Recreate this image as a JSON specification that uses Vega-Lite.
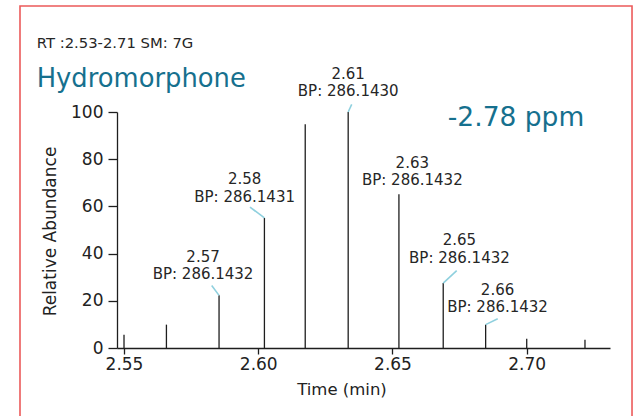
{
  "$schema": "https://vega.github.io/schema/vega-lite/v6.json",
  "width": 493,
  "height": 236,
  "autosize": {"type": "none"},
  "padding": {"left": 117, "top": 112, "right": 29, "bottom": 68},
  "background": "#ffffff",
  "datasets": {
    "peaks": [
      {"time": 2.5500, "abundance": 5.6, "rt": null, "label": null},
      {"time": 2.5658, "abundance": 9.9, "rt": null, "label": null},
      {"time": 2.5854, "abundance": 22.3, "rt": "2.57", "label": "2.57\nBP: 286.1432"},
      {"time": 2.6023, "abundance": 55.1, "rt": "2.58", "label": "2.58\nBP: 286.1431"},
      {"time": 2.6175, "abundance": 94.8, "rt": null, "label": null},
      {"time": 2.6335, "abundance": 100, "rt": "2.61", "label": "2.61\nBP: 286.1430"},
      {"time": 2.6524, "abundance": 65.1, "rt": "2.63", "label": "2.63\nBP: 286.1432"},
      {"time": 2.6689, "abundance": 27.5, "rt": "2.65", "label": "2.65\nBP: 286.1432"},
      {"time": 2.6847, "abundance": 9.9, "rt": "2.66", "label": "2.66\nBP: 286.1432"},
      {"time": 2.7000, "abundance": 3.9, "rt": null, "label": null},
      {"time": 2.7217, "abundance": 3.5, "rt": null, "label": null}
    ],
    "notes": [
      {"kind": "scan", "note": "RT :2.53-2.71 SM: 7G"},
      {"kind": "compound", "note": "Hydromorphone"},
      {"kind": "error", "note": "-2.78 ppm"}
    ]
  },
  "data": {"name": "peaks"},
  "layer": [
    {
      "mark": {"type": "rule", "color": "#1e1e1e", "strokeWidth": 1.3},
      "encoding": {
        "x": {
          "field": "time",
          "type": "quantitative",
          "scale": {"domain": [2.54739, 2.73102], "nice": false, "zero": false},
          "axis": {
            "values": [2.55, 2.6, 2.65, 2.7],
            "format": ".2f",
            "tickSize": 6,
            "labelPadding": 2,
            "labelFlush": false,
            "title": "Time (min)",
            "titleFontSize": 16.5,
            "titleX": 224.5,
            "titleY": 46,
            "titleAlign": "center",
            "titleBaseline": "alphabetic"
          }
        },
        "y": {
          "field": "abundance",
          "type": "quantitative",
          "scale": {"domain": [0, 100], "nice": false},
          "axis": {
            "values": [0, 20, 40, 60, 80, 100],
            "tickSize": 9,
            "labelPadding": 5,
            "title": "Relative Abundance",
            "titleFontSize": 17,
            "titleAngle": -90,
            "titleX": -67,
            "titleY": 119,
            "titleAlign": "center",
            "titleBaseline": "middle"
          }
        },
        "y2": {"datum": 0}
      }
    },
    {
      "data": {"name": "notes"},
      "transform": [{"filter": "datum.kind === 'scan'"}],
      "mark": {"type": "rect", "fill": "transparent", "stroke": "#ec5a5a", "strokeWidth": 1.6},
      "encoding": {
        "x": {"datum": 2.51126},
        "x2": {"datum": 2.73922},
        "y": {"datum": 144.9},
        "y2": {"datum": -35}
      }
    },
    {
      "transform": [{"filter": "datum.rt === '2.57'"}],
      "encoding": {
        "x": {"field": "time", "type": "quantitative"},
        "y": {"field": "abundance", "type": "quantitative"}
      },
      "layer": [
        {
          "mark": {"type": "rule", "color": "#8fd0de", "strokeWidth": 1.6},
          "encoding": {"x2": {"datum": 2.58266}, "y2": {"datum": 26.5}}
        },
        {
          "mark": {"type": "text", "dx": -16, "dy": -38.4, "align": "center", "baseline": "middle", "lineBreak": "\n", "lineHeight": 17.5, "font": "DejaVu Sans", "fontSize": 15, "color": "#262626"},
          "encoding": {"text": {"field": "label"}}
        }
      ]
    },
    {
      "transform": [{"filter": "datum.rt === '2.58'"}],
      "encoding": {
        "x": {"field": "time", "type": "quantitative"},
        "y": {"field": "abundance", "type": "quantitative"}
      },
      "layer": [
        {
          "mark": {"type": "rule", "color": "#8fd0de", "strokeWidth": 1.6},
          "encoding": {"x2": {"datum": 2.59693}, "y2": {"datum": 59.7}}
        },
        {
          "mark": {"type": "text", "dx": -19.8, "dy": -38.6, "align": "center", "baseline": "middle", "lineBreak": "\n", "lineHeight": 17.5, "font": "DejaVu Sans", "fontSize": 15, "color": "#262626"},
          "encoding": {"text": {"field": "label"}}
        }
      ]
    },
    {
      "transform": [{"filter": "datum.rt === '2.61'"}],
      "encoding": {
        "x": {"field": "time", "type": "quantitative"},
        "y": {"field": "abundance", "type": "quantitative"}
      },
      "layer": [
        {
          "mark": {"type": "rule", "color": "#8fd0de", "strokeWidth": 1.6},
          "encoding": {"x2": {"datum": 2.63481}, "y2": {"datum": 103.2}}
        },
        {
          "mark": {"type": "text", "dx": 0, "dy": -38.5, "align": "center", "baseline": "middle", "lineBreak": "\n", "lineHeight": 17.5, "font": "DejaVu Sans", "fontSize": 15, "color": "#262626"},
          "encoding": {"text": {"field": "label"}}
        }
      ]
    },
    {
      "transform": [{"filter": "datum.rt === '2.63'"}],
      "mark": {"type": "text", "dx": 13.4, "dy": -31.7, "align": "center", "baseline": "middle", "lineBreak": "\n", "lineHeight": 17.5, "font": "DejaVu Sans", "fontSize": 15, "color": "#262626"},
      "encoding": {
        "x": {"field": "time", "type": "quantitative"},
        "y": {"field": "abundance", "type": "quantitative"},
        "text": {"field": "label"}
      }
    },
    {
      "transform": [{"filter": "datum.rt === '2.65'"}],
      "encoding": {
        "x": {"field": "time", "type": "quantitative"},
        "y": {"field": "abundance", "type": "quantitative"}
      },
      "layer": [
        {
          "mark": {"type": "rule", "color": "#8fd0de", "strokeWidth": 1.6},
          "encoding": {"x2": {"datum": 2.67392}, "y2": {"datum": 32.8}}
        },
        {
          "mark": {"type": "text", "dx": 16.2, "dy": -42.8, "align": "center", "baseline": "middle", "lineBreak": "\n", "lineHeight": 17.5, "font": "DejaVu Sans", "fontSize": 15, "color": "#262626"},
          "encoding": {"text": {"field": "label"}}
        }
      ]
    },
    {
      "transform": [{"filter": "datum.rt === '2.66'"}],
      "encoding": {
        "x": {"field": "time", "type": "quantitative"},
        "y": {"field": "abundance", "type": "quantitative"}
      },
      "layer": [
        {
          "mark": {"type": "rule", "color": "#8fd0de", "strokeWidth": 1.6},
          "encoding": {"x2": {"datum": 2.68919}, "y2": {"datum": 12.4}}
        },
        {
          "mark": {"type": "text", "dx": 11.9, "dy": -34.7, "align": "center", "baseline": "middle", "lineBreak": "\n", "lineHeight": 17.5, "font": "DejaVu Sans", "fontSize": 15, "color": "#262626"},
          "encoding": {"text": {"field": "label"}}
        }
      ]
    },
    {
      "data": {"name": "notes"},
      "transform": [{"filter": "datum.kind === 'scan'"}],
      "mark": {"type": "text", "align": "left", "baseline": "alphabetic", "font": "DejaVu Sans", "fontSize": 14.8, "color": "#262626"},
      "encoding": {
        "x": {"datum": 2.51748},
        "y": {"datum": 127.0},
        "text": {"field": "note"}
      }
    },
    {
      "data": {"name": "notes"},
      "transform": [{"filter": "datum.kind === 'compound'"}],
      "mark": {"type": "text", "align": "left", "baseline": "alphabetic", "font": "DejaVu Sans", "fontSize": 25.8, "color": "#16708e"},
      "encoding": {
        "x": {"datum": 2.51748},
        "y": {"datum": 110.5},
        "text": {"field": "note"}
      }
    },
    {
      "data": {"name": "notes"},
      "transform": [{"filter": "datum.kind === 'error'"}],
      "mark": {"type": "text", "align": "center", "baseline": "alphabetic", "font": "DejaVu Sans", "fontSize": 26.5, "color": "#16708e"},
      "encoding": {
        "x": {"datum": 2.69601},
        "y": {"datum": 93.9},
        "text": {"field": "note"}
      }
    }
  ],
  "config": {
    "view": {"stroke": null},
    "axis": {
      "grid": false,
      "domainColor": "#1e1e1e",
      "domainWidth": 1.3,
      "tickColor": "#1e1e1e",
      "tickWidth": 1.3,
      "labelFont": "DejaVu Sans",
      "labelFontSize": 17,
      "labelColor": "#222222",
      "titleFont": "DejaVu Sans",
      "titleFontWeight": "normal",
      "titleColor": "#222222"
    }
  }
}
